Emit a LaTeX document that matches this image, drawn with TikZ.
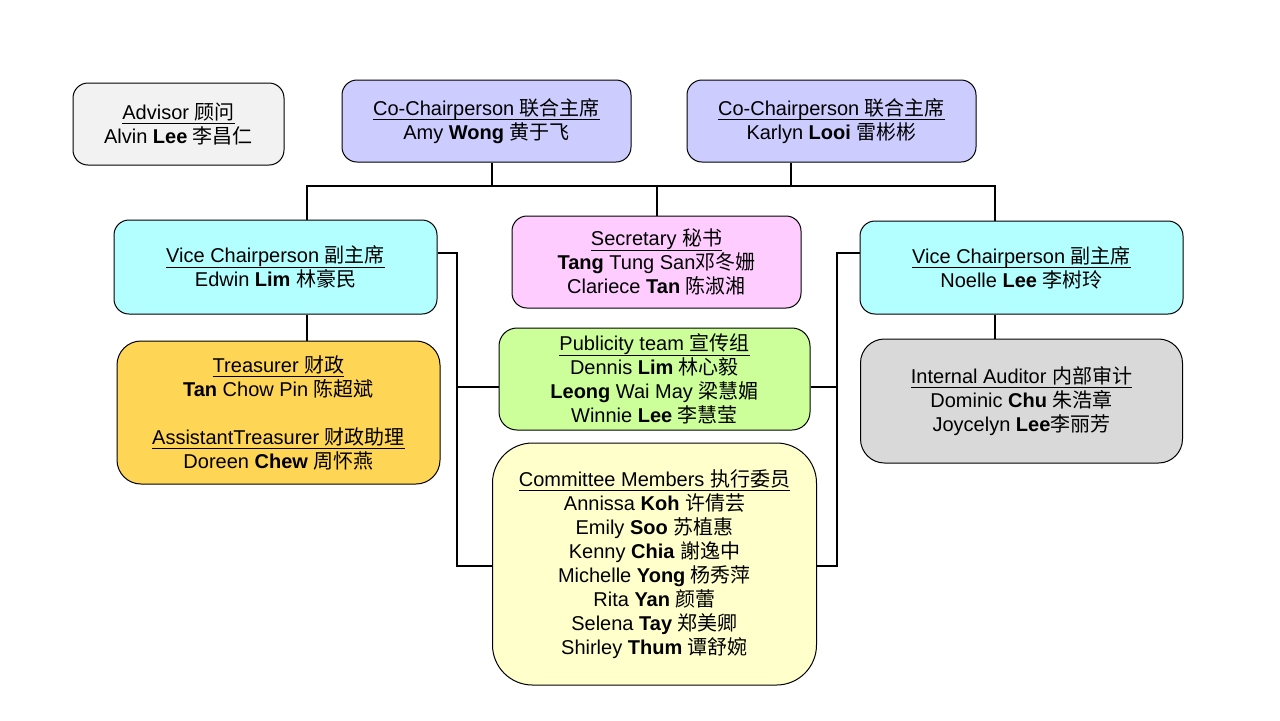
\documentclass[tikz,border=0pt]{standalone}
\usepackage{fontspec}
\setmainfont{Liberation Sans}
\newfontfamily\cjkfont{Noto Sans CJK SC}
\usetikzlibrary{positioning}
\newcommand{\chn}[1]{{\cjkfont #1}}
\newsavebox{\titlebox}
\newcommand{\titleline}[1]{\sbox{\titlebox}{#1}\rlap{\rule[-2.5pt]{\wd\titlebox}{0.5pt}}\usebox{\titlebox}}
\definecolor{advisorgray}{HTML}{F2F2F2}
\definecolor{cochairblue}{HTML}{CCCCFF}
\definecolor{vicecyan}{HTML}{B3FFFF}
\definecolor{secpink}{HTML}{FFCCFF}
\definecolor{treasgold}{HTML}{FFD556}
\definecolor{pubgreen}{HTML}{CCFF99}
\definecolor{auditgray}{HTML}{D9D9D9}
\definecolor{memberyellow}{HTML}{FFFFCC}

\begin{document}
\begin{tikzpicture}[x=0.5pt,y=-0.5pt,font=\fontsize{10}{12}\selectfont,
  box/.style={draw,rounded corners=7.5pt,align=center,inner sep=0pt,line width=0.5pt},
  tree/.style={line width=1pt}]
\useasboundingbox (0,0) rectangle (1280,720);
\node[box,fill=cochairblue,minimum width=144.5pt,minimum height=41pt] (cochairA) at (486.5,121) {\titleline{Co-Chairperson \chn{联合主席}}\\Amy \textbf{Wong} \chn{黄于飞}};
\node[box,fill=cochairblue,right=27.5pt of cochairA,minimum width=144.5pt,minimum height=41pt] (cochairB) {\titleline{Co-Chairperson \chn{联合主席}}\\Karlyn \textbf{Looi} \chn{雷彬彬}};
\node[box,fill=advisorgray,left=28.5pt of cochairA,yshift=-1.5pt,minimum width=105.5pt,minimum height=41pt] (advisor) {\titleline{Advisor \chn{顾问}}\\Alvin \textbf{Lee} \chn{李昌仁}};

\node[box,fill=secpink,minimum width=144.5pt,minimum height=46pt] (secretary) at (656.5,262) {\titleline{Secretary \chn{秘书}}\\\textbf{Tang} Tung San\chn{邓冬姗}\\Clariece \textbf{Tan} \chn{陈淑湘}};
\node[box,fill=vicecyan,left=37pt of secretary,yshift=-2.5pt,minimum width=161.5pt,minimum height=47pt] (viceL) {\titleline{Vice Chairperson \chn{副主席}}\\Edwin \textbf{Lim} \chn{林豪民}};
\node[box,fill=vicecyan,right=29pt of secretary,yshift=-2.75pt,minimum width=161.5pt,minimum height=46.5pt] (viceR) {\titleline{Vice Chairperson \chn{副主席}}\\Noelle \textbf{Lee} \chn{李树玲}};

\node[box,fill=treasgold,rounded corners=12pt,below=13pt of viceL,xshift=1.5pt,minimum width=161.5pt,minimum height=71.5pt] (treasurer) {\titleline{Treasurer \chn{财政}}\\\textbf{Tan} Chow Pin \chn{陈超斌}\\[12pt]\titleline{AssistantTreasurer \chn{财政助理}}\\Doreen \textbf{Chew} \chn{周怀燕}};
\node[box,fill=auditgray,rounded corners=12pt,below=12pt of viceR,minimum width=161pt,minimum height=62pt] (auditor) {\titleline{Internal Auditor \chn{内部审计}}\\Dominic \textbf{Chu} \chn{朱浩章}\\Joycelyn \textbf{Lee}\chn{李丽芳}};
\node[box,fill=pubgreen,rounded corners=9pt,below=9.5pt of secretary,xshift=-1pt,minimum width=155.5pt,minimum height=51pt] (publicity) {\titleline{Publicity team \chn{宣传组}}\\Dennis \textbf{Lim} \chn{林心毅}\\\textbf{Leong} Wai May \chn{梁慧媚}\\Winnie \textbf{Lee} \chn{李慧莹}};
\node[box,fill=memberyellow,rounded corners=20pt,below=6pt of publicity,minimum width=162pt,minimum height=121pt] (members) {\titleline{Committee Members \chn{执行委员}}\\Annissa \textbf{Koh} \chn{许倩芸}\\Emily \textbf{Soo} \chn{苏植惠}\\Kenny \textbf{Chia} \chn{謝逸中}\\Michelle \textbf{Yong} \chn{杨秀萍}\\Rita \textbf{Yan} \chn{颜蕾}\\Selena \textbf{Tay} \chn{郑美卿}\\Shirley \textbf{Thum} \chn{谭舒婉}};

% bus under the co-chairpersons
\coordinate (bus) at (654,186);
\draw[tree] ([xshift=2.75pt]cochairA.south) |- (bus);
\draw[tree] ([xshift=-20.25pt]cochairB.south) |- (bus);
\draw[tree] ([xshift=15.75pt]viceL.north) |- (bus);
\draw[tree] ([xshift=-13.25pt]viceR.north) |- (bus);
\draw[tree] (secretary.north) -- (secretary.north |- bus);

% down to treasurer and auditor
\draw[tree] ([xshift=15.75pt]viceL.south) -- ([xshift=15.75pt]viceL.south |- treasurer.north);
\draw[tree] ([xshift=-13.25pt]viceR.south) -- ([xshift=-13.25pt]viceR.south |- auditor.north);

% side rails to publicity and members
\coordinate (railL) at (457,566);
\coordinate (railR) at (837,566);
\draw[tree] ([yshift=7pt]viceL.east) -| (railL) -- (railL -| members.west);
\draw[tree] ([yshift=7.25pt]viceR.west) -| (railR) -- (railR -| members.east);
\draw[tree] ([yshift=-4pt]publicity.west) -- ([yshift=-4pt]publicity.west -| railL);
\draw[tree] ([yshift=-4pt]publicity.east) -- ([yshift=-4pt]publicity.east -| railR);
\end{tikzpicture}
\end{document}
